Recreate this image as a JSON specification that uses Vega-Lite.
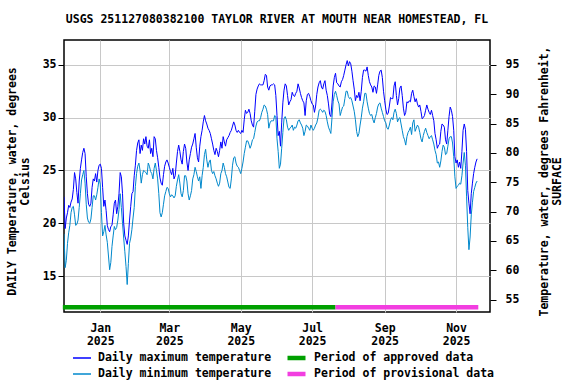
{
"$schema": "https://vega.github.io/schema/vega-lite/v6.json",
"width": 426, "height": 272,
"autosize": {"type": "none"},
"padding": {"left": 64, "top": 40, "right": 86, "bottom": 72},
"background": "white",
"title": {"text": "USGS 251127080382100 TAYLOR RIVER AT MOUTH NEAR HOMESTEAD, FL", "font": "DejaVu Sans Mono", "fontSize": 11.5, "fontWeight": "bold", "anchor": "middle", "baseline": "alphabetic", "offset": 6, "color": "#000"},
"config": {
  "view": {"stroke": "#000", "strokeWidth": 1.5},
  "rule": {"strokeWidth": 4.5, "strokeCap": "butt"},
  "axis": {"domain": false, "labelFont": "DejaVu Sans Mono", "labelFontSize": 11.5, "labelFontWeight": "bold", "labelColor": "#000", "titleFont": "DejaVu Sans Mono", "titleFontSize": 11.5, "titleFontWeight": "bold", "titleColor": "#000", "gridColor": "#c8c8c8", "gridWidth": 1, "tickColor": "#000", "labelOverlap": false, "labelFlush": false},
  "legend": {"labelFont": "DejaVu Sans Mono", "labelFontSize": 11.5, "labelFontWeight": "bold", "labelColor": "#000", "labelLimit": 0}
},
"datasets": {
"periods": [
{"s": "2024-11-30", "e": "2025-07-21", "status": "Period of approved data"},
{"s": "2025-07-21", "e": "2025-11-20", "status": "Period of provisional data"}
],
"temps": [
{"d":"2024-12-01","hi":22.5,"lo":19.0},{"d":"2024-12-02","hi":19.5,"lo":15.8},{"d":"2024-12-03","hi":20.5,"lo":16.5},{"d":"2024-12-04","hi":21.0,"lo":18.1},{"d":"2024-12-05","hi":21.7,"lo":19.1},{"d":"2024-12-06","hi":21.5,"lo":19.8},{"d":"2024-12-07","hi":22.0,"lo":21.0},{"d":"2024-12-08","hi":22.3,"lo":21.5},{"d":"2024-12-09","hi":23.2,"lo":21.6},{"d":"2024-12-10","hi":24.8,"lo":20.8},
{"d":"2024-12-11","hi":24.2,"lo":19.8},{"d":"2024-12-12","hi":22.9,"lo":19.9},{"d":"2024-12-13","hi":21.9,"lo":20.3},{"d":"2024-12-14","hi":24.0,"lo":21.5},{"d":"2024-12-15","hi":25.2,"lo":22.8},{"d":"2024-12-16","hi":26.0,"lo":24.1},{"d":"2024-12-17","hi":26.7,"lo":24.6},{"d":"2024-12-18","hi":27.1,"lo":25.0},{"d":"2024-12-19","hi":26.6,"lo":23.8},{"d":"2024-12-20","hi":24.4,"lo":21.8},
{"d":"2024-12-21","hi":22.8,"lo":20.5},{"d":"2024-12-22","hi":21.8,"lo":20.1},{"d":"2024-12-23","hi":21.6,"lo":20.0},{"d":"2024-12-24","hi":21.9,"lo":20.4},{"d":"2024-12-25","hi":23.4,"lo":21.5},{"d":"2024-12-26","hi":24.2,"lo":22.6},{"d":"2024-12-27","hi":24.0,"lo":22.6},{"d":"2024-12-28","hi":24.7,"lo":22.2},{"d":"2024-12-29","hi":23.9,"lo":22.7},{"d":"2024-12-30","hi":25.0,"lo":23.4},
{"d":"2024-12-31","hi":25.5,"lo":24.2},{"d":"2025-01-01","hi":25.6,"lo":23.7},{"d":"2025-01-02","hi":25.2,"lo":21.0},{"d":"2025-01-03","hi":23.4,"lo":18.8},{"d":"2025-01-04","hi":21.6,"lo":19.2},{"d":"2025-01-05","hi":22.2,"lo":19.8},{"d":"2025-01-06","hi":21.2,"lo":18.9},{"d":"2025-01-07","hi":19.8,"lo":18.2},{"d":"2025-01-08","hi":19.4,"lo":16.9},{"d":"2025-01-09","hi":19.2,"lo":15.6},
{"d":"2025-01-10","hi":19.7,"lo":16.3},{"d":"2025-01-11","hi":19.8,"lo":17.8},{"d":"2025-01-12","hi":20.8,"lo":18.8},{"d":"2025-01-13","hi":21.9,"lo":19.7},{"d":"2025-01-14","hi":22.2,"lo":19.4},{"d":"2025-01-15","hi":20.9,"lo":19.6},{"d":"2025-01-16","hi":21.6,"lo":20.3},{"d":"2025-01-17","hi":22.8,"lo":21.3},{"d":"2025-01-18","hi":24.8,"lo":22.8},{"d":"2025-01-19","hi":24.4,"lo":21.5},
{"d":"2025-01-20","hi":22.8,"lo":20.0},{"d":"2025-01-21","hi":20.0,"lo":18.6},{"d":"2025-01-22","hi":18.8,"lo":17.3},{"d":"2025-01-23","hi":18.4,"lo":15.9},{"d":"2025-01-24","hi":18.0,"lo":14.2},{"d":"2025-01-25","hi":18.8,"lo":16.2},{"d":"2025-01-26","hi":20.3,"lo":18.1},{"d":"2025-01-27","hi":21.6,"lo":18.6},{"d":"2025-01-28","hi":22.8,"lo":19.4},{"d":"2025-01-29","hi":23.0,"lo":20.5},
{"d":"2025-01-30","hi":24.5,"lo":21.5},{"d":"2025-01-31","hi":25.5,"lo":23.5},{"d":"2025-02-01","hi":26.9,"lo":24.7},{"d":"2025-02-02","hi":27.6,"lo":25.4},{"d":"2025-02-03","hi":27.9,"lo":25.7},{"d":"2025-02-04","hi":26.6,"lo":25.0},{"d":"2025-02-05","hi":27.4,"lo":23.8},{"d":"2025-02-06","hi":26.9,"lo":24.6},{"d":"2025-02-07","hi":28.0,"lo":25.0},{"d":"2025-02-08","hi":27.5,"lo":24.9},
{"d":"2025-02-09","hi":28.2,"lo":24.8},{"d":"2025-02-10","hi":27.3,"lo":24.6},{"d":"2025-02-11","hi":27.1,"lo":25.7},{"d":"2025-02-12","hi":27.9,"lo":25.4},{"d":"2025-02-13","hi":26.6,"lo":24.9},{"d":"2025-02-14","hi":27.1,"lo":24.7},{"d":"2025-02-15","hi":26.3,"lo":24.2},{"d":"2025-02-16","hi":28.2,"lo":25.2},{"d":"2025-02-17","hi":28.0,"lo":25.7},{"d":"2025-02-18","hi":26.9,"lo":25.0},
{"d":"2025-02-19","hi":26.2,"lo":24.2},{"d":"2025-02-20","hi":25.3,"lo":22.8},{"d":"2025-02-21","hi":24.3,"lo":21.0},{"d":"2025-02-22","hi":23.8,"lo":20.6},{"d":"2025-02-23","hi":23.6,"lo":21.0},{"d":"2025-02-24","hi":24.6,"lo":21.8},{"d":"2025-02-25","hi":25.4,"lo":22.6},{"d":"2025-02-26","hi":25.8,"lo":23.0},{"d":"2025-02-27","hi":26.0,"lo":23.4},{"d":"2025-02-28","hi":25.7,"lo":23.3},
{"d":"2025-03-01","hi":25.3,"lo":22.8},{"d":"2025-03-02","hi":24.9,"lo":22.5},{"d":"2025-03-03","hi":24.6,"lo":22.7},{"d":"2025-03-04","hi":25.2,"lo":22.6},{"d":"2025-03-05","hi":24.2,"lo":22.4},{"d":"2025-03-06","hi":24.5,"lo":22.6},{"d":"2025-03-07","hi":25.7,"lo":23.5},{"d":"2025-03-08","hi":26.8,"lo":24.1},{"d":"2025-03-09","hi":27.4,"lo":24.6},{"d":"2025-03-10","hi":26.8,"lo":23.8},
{"d":"2025-03-11","hi":26.0,"lo":22.8},{"d":"2025-03-12","hi":25.6,"lo":22.5},{"d":"2025-03-13","hi":26.8,"lo":23.1},{"d":"2025-03-14","hi":27.5,"lo":24.5},{"d":"2025-03-15","hi":27.1,"lo":24.5},{"d":"2025-03-16","hi":25.8,"lo":24.0},{"d":"2025-03-17","hi":25.0,"lo":22.8},{"d":"2025-03-18","hi":26.0,"lo":22.2},{"d":"2025-03-19","hi":26.6,"lo":22.6},{"d":"2025-03-20","hi":27.2,"lo":23.1},
{"d":"2025-03-21","hi":27.5,"lo":24.2},{"d":"2025-03-22","hi":28.0,"lo":24.6},{"d":"2025-03-23","hi":28.5,"lo":25.3},{"d":"2025-03-24","hi":27.2,"lo":24.9},{"d":"2025-03-25","hi":26.2,"lo":24.4},{"d":"2025-03-26","hi":25.8,"lo":24.0},{"d":"2025-03-27","hi":27.3,"lo":24.4},{"d":"2025-03-28","hi":28.2,"lo":23.3},{"d":"2025-03-29","hi":28.8,"lo":24.5},{"d":"2025-03-30","hi":29.6,"lo":25.3},
{"d":"2025-03-31","hi":30.2,"lo":26.5},{"d":"2025-04-01","hi":29.7,"lo":27.0},{"d":"2025-04-02","hi":29.4,"lo":26.0},{"d":"2025-04-03","hi":29.0,"lo":25.3},{"d":"2025-04-04","hi":28.8,"lo":25.8},{"d":"2025-04-05","hi":28.5,"lo":26.0},{"d":"2025-04-06","hi":28.0,"lo":25.0},{"d":"2025-04-07","hi":27.5,"lo":24.7},{"d":"2025-04-08","hi":26.9,"lo":24.9},{"d":"2025-04-09","hi":26.5,"lo":24.5},
{"d":"2025-04-10","hi":27.1,"lo":24.2},{"d":"2025-04-11","hi":26.8,"lo":23.8},{"d":"2025-04-12","hi":26.3,"lo":23.5},{"d":"2025-04-13","hi":26.9,"lo":23.8},{"d":"2025-04-14","hi":27.7,"lo":24.7},{"d":"2025-04-15","hi":27.1,"lo":25.0},{"d":"2025-04-16","hi":28.2,"lo":25.7},{"d":"2025-04-17","hi":27.7,"lo":25.3},{"d":"2025-04-18","hi":27.3,"lo":24.7},{"d":"2025-04-19","hi":27.9,"lo":24.4},
{"d":"2025-04-20","hi":28.1,"lo":23.9},{"d":"2025-04-21","hi":28.3,"lo":23.4},{"d":"2025-04-22","hi":28.6,"lo":23.3},{"d":"2025-04-23","hi":28.8,"lo":24.2},{"d":"2025-04-24","hi":29.2,"lo":25.5},{"d":"2025-04-25","hi":29.6,"lo":26.2},{"d":"2025-04-26","hi":29.3,"lo":26.3},{"d":"2025-04-27","hi":28.8,"lo":25.7},{"d":"2025-04-28","hi":28.6,"lo":25.4},{"d":"2025-04-29","hi":28.8,"lo":25.3},
{"d":"2025-04-30","hi":28.6,"lo":25.0},{"d":"2025-05-01","hi":28.5,"lo":24.7},{"d":"2025-05-02","hi":28.8,"lo":25.2},{"d":"2025-05-03","hi":28.6,"lo":25.8},{"d":"2025-05-04","hi":29.8,"lo":26.6},{"d":"2025-05-05","hi":30.7,"lo":27.2},{"d":"2025-05-06","hi":30.4,"lo":27.8},{"d":"2025-05-07","hi":30.5,"lo":27.8},{"d":"2025-05-08","hi":30.8,"lo":27.5},{"d":"2025-05-09","hi":30.4,"lo":27.1},
{"d":"2025-05-10","hi":29.7,"lo":27.4},{"d":"2025-05-11","hi":29.3,"lo":27.9},{"d":"2025-05-12","hi":29.1,"lo":28.0},{"d":"2025-05-13","hi":30.6,"lo":28.6},{"d":"2025-05-14","hi":32.2,"lo":29.2},{"d":"2025-05-15","hi":32.7,"lo":29.6},{"d":"2025-05-16","hi":33.0,"lo":29.7},{"d":"2025-05-17","hi":33.2,"lo":29.7},{"d":"2025-05-18","hi":33.1,"lo":30.0},{"d":"2025-05-19","hi":33.1,"lo":30.5},
{"d":"2025-05-20","hi":33.1,"lo":30.8},{"d":"2025-05-21","hi":33.5,"lo":31.2},{"d":"2025-05-22","hi":34.1,"lo":31.1},{"d":"2025-05-23","hi":34.0,"lo":30.8},{"d":"2025-05-24","hi":32.9,"lo":30.3},{"d":"2025-05-25","hi":32.6,"lo":29.0},{"d":"2025-05-26","hi":33.0,"lo":29.5},{"d":"2025-05-27","hi":33.1,"lo":29.7},{"d":"2025-05-28","hi":33.1,"lo":29.7},{"d":"2025-05-29","hi":33.2,"lo":29.7},
{"d":"2025-05-30","hi":33.1,"lo":30.2},{"d":"2025-05-31","hi":32.1,"lo":30.1},{"d":"2025-06-01","hi":30.2,"lo":28.0},{"d":"2025-06-02","hi":28.3,"lo":26.8},{"d":"2025-06-03","hi":28.7,"lo":25.2},{"d":"2025-06-04","hi":27.3,"lo":25.6},{"d":"2025-06-05","hi":29.5,"lo":27.1},{"d":"2025-06-06","hi":31.4,"lo":28.6},{"d":"2025-06-07","hi":32.6,"lo":29.9},{"d":"2025-06-08","hi":33.2,"lo":30.1},
{"d":"2025-06-09","hi":33.0,"lo":29.8},{"d":"2025-06-10","hi":32.1,"lo":29.1},{"d":"2025-06-11","hi":31.2,"lo":28.8},{"d":"2025-06-12","hi":31.5,"lo":29.0},{"d":"2025-06-13","hi":31.7,"lo":29.1},{"d":"2025-06-14","hi":32.4,"lo":29.3},{"d":"2025-06-15","hi":32.1,"lo":28.8},{"d":"2025-06-16","hi":32.0,"lo":29.1},{"d":"2025-06-17","hi":32.3,"lo":29.0},{"d":"2025-06-18","hi":32.5,"lo":29.3},
{"d":"2025-06-19","hi":33.2,"lo":29.7},{"d":"2025-06-20","hi":32.8,"lo":29.8},{"d":"2025-06-21","hi":32.3,"lo":29.5},{"d":"2025-06-22","hi":31.9,"lo":29.3},{"d":"2025-06-23","hi":31.6,"lo":29.0},{"d":"2025-06-24","hi":31.4,"lo":28.3},{"d":"2025-06-25","hi":30.2,"lo":28.7},{"d":"2025-06-26","hi":31.6,"lo":29.3},{"d":"2025-06-27","hi":32.2,"lo":29.2},{"d":"2025-06-28","hi":32.3,"lo":29.0},
{"d":"2025-06-29","hi":32.0,"lo":28.8},{"d":"2025-06-30","hi":31.6,"lo":29.3},{"d":"2025-07-01","hi":31.3,"lo":29.0},{"d":"2025-07-02","hi":31.2,"lo":28.8},{"d":"2025-07-03","hi":30.5,"lo":29.0},{"d":"2025-07-04","hi":31.1,"lo":29.3},{"d":"2025-07-05","hi":32.2,"lo":29.5},{"d":"2025-07-06","hi":32.9,"lo":30.0},{"d":"2025-07-07","hi":33.3,"lo":30.7},{"d":"2025-07-08","hi":33.5,"lo":30.8},
{"d":"2025-07-09","hi":32.9,"lo":30.7},{"d":"2025-07-10","hi":32.7,"lo":30.5},{"d":"2025-07-11","hi":33.2,"lo":30.7},{"d":"2025-07-12","hi":33.5,"lo":30.6},{"d":"2025-07-13","hi":32.6,"lo":30.2},{"d":"2025-07-14","hi":32.1,"lo":29.6},{"d":"2025-07-15","hi":31.3,"lo":29.1},{"d":"2025-07-16","hi":30.3,"lo":28.8},{"d":"2025-07-17","hi":30.1,"lo":28.5},{"d":"2025-07-18","hi":31.4,"lo":30.0},
{"d":"2025-07-19","hi":33.0,"lo":31.5},{"d":"2025-07-20","hi":33.8,"lo":32.2},{"d":"2025-07-21","hi":34.2,"lo":32.5},{"d":"2025-07-22","hi":33.3,"lo":32.1},{"d":"2025-07-23","hi":33.2,"lo":31.6},{"d":"2025-07-24","hi":33.0,"lo":31.3},{"d":"2025-07-25","hi":32.9,"lo":30.2},{"d":"2025-07-26","hi":33.4,"lo":30.6},{"d":"2025-07-27","hi":33.6,"lo":31.0},{"d":"2025-07-28","hi":34.0,"lo":31.1},
{"d":"2025-07-29","hi":34.5,"lo":31.8},{"d":"2025-07-30","hi":35.0,"lo":32.5},{"d":"2025-07-31","hi":35.4,"lo":32.5},{"d":"2025-08-01","hi":34.9,"lo":32.0},{"d":"2025-08-02","hi":35.3,"lo":31.8},{"d":"2025-08-03","hi":35.1,"lo":31.9},{"d":"2025-08-04","hi":34.4,"lo":31.6},{"d":"2025-08-05","hi":33.5,"lo":31.1},{"d":"2025-08-06","hi":32.7,"lo":30.6},{"d":"2025-08-07","hi":31.6,"lo":29.8},
{"d":"2025-08-08","hi":32.1,"lo":28.7},{"d":"2025-08-09","hi":31.9,"lo":28.2},{"d":"2025-08-10","hi":32.4,"lo":28.5},{"d":"2025-08-11","hi":31.6,"lo":29.3},{"d":"2025-08-12","hi":32.5,"lo":30.0},{"d":"2025-08-13","hi":33.8,"lo":30.9},{"d":"2025-08-14","hi":34.5,"lo":31.5},{"d":"2025-08-15","hi":34.5,"lo":32.3},{"d":"2025-08-16","hi":34.4,"lo":32.3},{"d":"2025-08-17","hi":34.8,"lo":31.5},
{"d":"2025-08-18","hi":34.0,"lo":30.9},{"d":"2025-08-19","hi":33.4,"lo":30.4},{"d":"2025-08-20","hi":33.1,"lo":30.2},{"d":"2025-08-21","hi":32.9,"lo":30.3},{"d":"2025-08-22","hi":32.4,"lo":29.8},{"d":"2025-08-23","hi":33.0,"lo":29.5},{"d":"2025-08-24","hi":32.9,"lo":30.0},{"d":"2025-08-25","hi":32.3,"lo":30.4},{"d":"2025-08-26","hi":33.1,"lo":31.0},{"d":"2025-08-27","hi":34.0,"lo":31.3},
{"d":"2025-08-28","hi":34.4,"lo":31.4},{"d":"2025-08-29","hi":34.5,"lo":30.9},{"d":"2025-08-30","hi":33.8,"lo":30.5},{"d":"2025-08-31","hi":32.5,"lo":30.1},{"d":"2025-09-01","hi":31.6,"lo":29.7},{"d":"2025-09-02","hi":30.8,"lo":29.5},{"d":"2025-09-03","hi":30.3,"lo":29.0},{"d":"2025-09-04","hi":30.4,"lo":28.9},{"d":"2025-09-05","hi":31.1,"lo":29.3},{"d":"2025-09-06","hi":31.9,"lo":29.8},
{"d":"2025-09-07","hi":31.8,"lo":30.0},{"d":"2025-09-08","hi":31.8,"lo":29.8},{"d":"2025-09-09","hi":33.0,"lo":30.5},{"d":"2025-09-10","hi":33.4,"lo":30.8},{"d":"2025-09-11","hi":32.1,"lo":30.4},{"d":"2025-09-12","hi":31.2,"lo":29.6},{"d":"2025-09-13","hi":31.8,"lo":29.9},{"d":"2025-09-14","hi":32.8,"lo":30.0},{"d":"2025-09-15","hi":33.0,"lo":29.4},{"d":"2025-09-16","hi":32.1,"lo":28.8},
{"d":"2025-09-17","hi":30.9,"lo":28.2},{"d":"2025-09-18","hi":30.2,"lo":27.9},{"d":"2025-09-19","hi":30.5,"lo":27.4},{"d":"2025-09-20","hi":31.5,"lo":28.2},{"d":"2025-09-21","hi":31.4,"lo":28.6},{"d":"2025-09-22","hi":31.6,"lo":28.8},{"d":"2025-09-23","hi":31.5,"lo":29.1},{"d":"2025-09-24","hi":32.3,"lo":28.4},{"d":"2025-09-25","hi":32.6,"lo":29.5},{"d":"2025-09-26","hi":32.0,"lo":29.8},
{"d":"2025-09-27","hi":31.5,"lo":28.7},{"d":"2025-09-28","hi":31.8,"lo":29.0},{"d":"2025-09-29","hi":31.3,"lo":29.3},{"d":"2025-09-30","hi":31.0,"lo":29.1},{"d":"2025-10-01","hi":31.2,"lo":28.6},{"d":"2025-10-02","hi":30.6,"lo":28.0},{"d":"2025-10-03","hi":29.9,"lo":27.7},{"d":"2025-10-04","hi":30.0,"lo":28.3},{"d":"2025-10-05","hi":30.2,"lo":28.7},{"d":"2025-10-06","hi":30.7,"lo":29.0},
{"d":"2025-10-07","hi":31.2,"lo":28.6},{"d":"2025-10-08","hi":30.8,"lo":28.3},{"d":"2025-10-09","hi":30.5,"lo":28.0},{"d":"2025-10-10","hi":30.3,"lo":28.2},{"d":"2025-10-11","hi":30.7,"lo":28.3},{"d":"2025-10-12","hi":30.2,"lo":27.9},{"d":"2025-10-13","hi":29.7,"lo":27.5},{"d":"2025-10-14","hi":28.5,"lo":26.9},{"d":"2025-10-15","hi":27.9,"lo":26.5},{"d":"2025-10-16","hi":27.1,"lo":25.7},
{"d":"2025-10-17","hi":27.4,"lo":25.8},{"d":"2025-10-18","hi":27.5,"lo":25.3},{"d":"2025-10-19","hi":28.7,"lo":25.9},{"d":"2025-10-20","hi":29.4,"lo":26.8},{"d":"2025-10-21","hi":29.3,"lo":27.4},{"d":"2025-10-22","hi":29.1,"lo":27.2},{"d":"2025-10-23","hi":27.9,"lo":26.5},{"d":"2025-10-24","hi":27.5,"lo":26.6},{"d":"2025-10-25","hi":28.8,"lo":27.3},{"d":"2025-10-26","hi":30.1,"lo":28.0},
{"d":"2025-10-27","hi":31.0,"lo":28.2},{"d":"2025-10-28","hi":30.7,"lo":28.2},{"d":"2025-10-29","hi":30.1,"lo":27.6},{"d":"2025-10-30","hi":28.8,"lo":26.3},{"d":"2025-10-31","hi":26.3,"lo":24.4},{"d":"2025-11-01","hi":25.7,"lo":23.3},{"d":"2025-11-02","hi":26.0,"lo":23.5},{"d":"2025-11-03","hi":25.3,"lo":23.6},{"d":"2025-11-04","hi":25.8,"lo":23.8},{"d":"2025-11-05","hi":25.2,"lo":23.7},
{"d":"2025-11-06","hi":26.8,"lo":24.5},{"d":"2025-11-07","hi":28.8,"lo":25.7},{"d":"2025-11-08","hi":29.4,"lo":26.7},{"d":"2025-11-09","hi":28.9,"lo":25.5},{"d":"2025-11-10","hi":26.8,"lo":22.5},{"d":"2025-11-11","hi":23.1,"lo":19.6},{"d":"2025-11-12","hi":21.9,"lo":17.5},{"d":"2025-11-13","hi":20.9,"lo":18.7},{"d":"2025-11-14","hi":22.8,"lo":20.8},{"d":"2025-11-15","hi":23.8,"lo":22.0},
{"d":"2025-11-16","hi":24.7,"lo":23.0},{"d":"2025-11-17","hi":25.3,"lo":23.4},{"d":"2025-11-18","hi":25.8,"lo":23.8},{"d":"2025-11-19","hi":26.1,"lo":24.0}
]
},
"layer": [
  {
    "layer": [
      {
        "data": {"name": "periods"},
        "mark": {"type": "rule", "clip": false},
        "encoding": {
          "x": {"field": "s", "type": "temporal", "scale": {"type": "utc", "domain": [{"year": 2024, "month": 12, "date": 1, "utc": true}, {"year": 2025, "month": 11, "date": 30, "utc": true}]},
                "axis": {"title": null, "grid": true, "ticks": false, "labelPadding": 10, "labelBaseline": "top", "labelLineHeight": 13.5, "labelAlign": "center",
                         "values": [{"year": 2025, "month": 1, "date": 1, "utc": true}, {"year": 2025, "month": 3, "date": 1, "utc": true}, {"year": 2025, "month": 5, "date": 1, "utc": true}, {"year": 2025, "month": 7, "date": 1, "utc": true}, {"year": 2025, "month": 9, "date": 1, "utc": true}, {"year": 2025, "month": 11, "date": 1, "utc": true}],
                         "labelExpr": "[utcFormat(datum.value, '%b'), utcFormat(datum.value, '%Y')]"}},
          "x2": {"field": "e"},
          "y": {"datum": 12.05, "type": "quantitative", "scale": {"domain": [11.6, 37.35], "nice": false, "zero": false},
                "axis": {"values": [15, 20, 25, 30, 35], "title": ["DAILY Temperature, water, degrees", "Celsius"], "grid": true, "tickSize": 6, "labelPadding": 2,
                         "titleAngle": -90, "titleX": -57.5, "titleY": 141, "titleAlign": "center", "titleBaseline": "top", "titleLineHeight": 13}},
          "stroke": {"field": "status", "type": "nominal", "scale": {"domain": ["Period of approved data", "Period of provisional data"], "range": ["#00a000", "#f23ee0"]},
                     "legend": {"orient": "none", "legendX": 221, "legendY": 310, "title": null, "symbolType": "stroke", "symbolStrokeWidth": 5, "symbolSize": 324, "labelOffset": 6, "clipHeight": 16, "rowPadding": 0, "padding": 0, "direction": "vertical"}}
        }
      },
      {
        "data": {"name": "temps"},
        "mark": {"type": "line", "strokeWidth": 1, "clip": true, "interpolate": "linear"},
        "encoding": {
          "x": {"field": "d", "type": "temporal", "scale": {"type": "utc", "domain": [{"year": 2024, "month": 12, "date": 1, "utc": true}, {"year": 2025, "month": 11, "date": 30, "utc": true}]}},
          "y": {"field": "lo", "type": "quantitative", "scale": {"domain": [11.6, 37.35], "nice": false, "zero": false}},
          "color": {"datum": "Daily minimum temperature", "type": "nominal", "scale": {"domain": ["Daily maximum temperature", "Daily minimum temperature"], "range": ["#0000ff", "#0088cc"]},
                    "legend": {"orient": "none", "legendX": 8, "legendY": 310, "title": null, "symbolType": "stroke", "symbolStrokeWidth": 1.5, "symbolSize": 324, "labelOffset": 6, "clipHeight": 16, "rowPadding": 0, "padding": 0, "direction": "vertical"}}
        }
      },
      {
        "data": {"name": "temps"},
        "mark": {"type": "line", "strokeWidth": 1, "clip": true, "interpolate": "linear"},
        "encoding": {
          "x": {"field": "d", "type": "temporal", "scale": {"type": "utc", "domain": [{"year": 2024, "month": 12, "date": 1, "utc": true}, {"year": 2025, "month": 11, "date": 30, "utc": true}]}},
          "y": {"field": "hi", "type": "quantitative", "scale": {"domain": [11.6, 37.35], "nice": false, "zero": false}},
          "color": {"datum": "Daily maximum temperature", "type": "nominal"}
        }
      }
    ]
  },
  {
    "data": {"name": "temps"},
    "mark": {"type": "point", "opacity": 0, "clip": true},
    "encoding": {
      "x": {"field": "d", "type": "temporal", "scale": {"type": "utc", "domain": [{"year": 2024, "month": 12, "date": 1, "utc": true}, {"year": 2025, "month": 11, "date": 30, "utc": true}]}},
      "y": {"field": "hi", "type": "quantitative", "scale": {"domain": [52.88, 99.23], "nice": false, "zero": false},
            "axis": {"orient": "right", "values": [55, 60, 65, 70, 75, 80, 85, 90, 95], "title": ["Temperature, water, degrees Fahrenheit,", "SURFACE"], "grid": false, "tickSize": 6, "labelPadding": 9,
                     "titleAngle": -90, "titleX": 48.5, "titleY": 141, "titleAlign": "center", "titleBaseline": "top", "titleLineHeight": 13}}
    }
  }
],
"resolve": {"scale": {"y": "independent"}}
}
